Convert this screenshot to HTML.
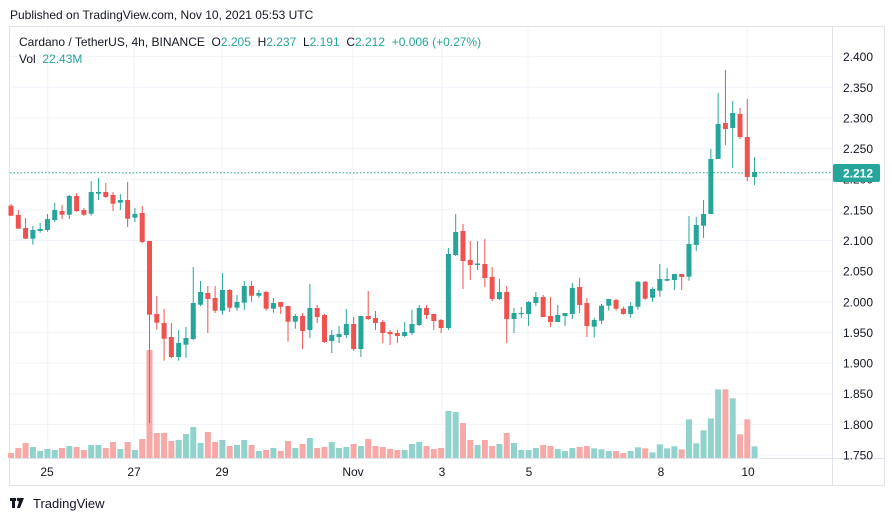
<!DOCTYPE html>
<html><head><meta charset="utf-8"><style>
body{margin:0;width:892px;height:521px;background:#fff;overflow:hidden;font-family:"Liberation Sans",sans-serif}
svg{position:absolute;left:0;top:0}
</style></head><body>
<svg id="s" width="892" height="521" xmlns="http://www.w3.org/2000/svg" font-family="Liberation Sans, sans-serif">
<text x="10" y="19" font-size="12" fill="#131722">Published on TradingView.com, Nov 10, 2021 05:53 UTC</text>
<rect x="9.5" y="26.5" width="875" height="459" fill="none" stroke="#e0e3eb"/>
<g id="grid" stroke="#f0f3fa" stroke-width="1"></g>
<g id="vol"></g>
<g id="cand"></g>
<line x1="10" y1="172.7" x2="832" y2="172.7" stroke="#26a69a" stroke-dasharray="1.5,2"/>
<line x1="832.5" y1="27" x2="832.5" y2="486" stroke="#e0e3eb"/>
<line x1="10" y1="458.5" x2="885" y2="458.5" stroke="#e0e3eb"/>
<g id="pl" font-size="12" fill="#131722"></g>
<rect x="833" y="164" width="47" height="18" rx="2" fill="#26a69a"/>
<text x="843" y="177.5" font-size="12" fill="#fff" font-weight="bold">2.212</text>
<g font-size="12" fill="#131722" text-anchor="middle">
<text x="47" y="476">25</text><text x="134" y="476">27</text><text x="222" y="476">29</text><text x="353" y="476">Nov</text><text x="442" y="476">3</text><text x="529" y="476">5</text><text x="661" y="476">8</text><text x="748" y="476">10</text></g>
<text x="19" y="46" font-size="12" fill="#131722">Cardano / TetherUS, 4h, BINANCE&#160;&#160;O<tspan fill="#26a69a">2.205</tspan>&#160;&#160;H<tspan fill="#26a69a">2.237</tspan>&#160;&#160;L<tspan fill="#26a69a">2.191</tspan>&#160;&#160;C<tspan fill="#26a69a">2.212&#160;&#160;+0.006 (+0.27%)</tspan></text>
<text x="19" y="63" font-size="12" fill="#131722">Vol&#160;&#160;<tspan fill="#26a69a">22.43M</tspan></text>
<g fill="#131722"><rect x="10" y="498" width="6" height="3"/><rect x="12" y="498" width="3" height="10"/><circle cx="18.5" cy="499.5" r="1.7"/><path d="M20 498h4l-4 10h-3z"/></g>
<text x="33" y="508" font-size="13" fill="#131722">TradingView</text>
</svg>
<script>
var ns="http://www.w3.org/2000/svg";
function el(p,t,a){var e=document.createElementNS(ns,t);for(var k in a)e.setAttribute(k,a[k]);document.getElementById(p).appendChild(e);return e;}
function y(p){return 87.3+(2.35-p)/0.05*30.64;}
for(var i=0;i<14;i++){var p=2.4-i*0.05,yy=y(p);el("grid","line",{x1:10,x2:832,y1:yy,y2:yy});var t=el("pl","text",{x:843,y:yy+4.5});t.textContent=p.toFixed(3);}
[47.7,134.3,222,353,441.7,528,660.7,747].forEach(function(x){el("grid","line",{x1:x,x2:x,y1:27,y2:458});});
var G="#26a69a",R="#ef5350";
var C=[
[205.7,215.7,204,216,R],[215,228.7,210,228.7,R],[228,238.7,218,238.7,R],[230,238.7,226,244.7,G],[229,231,223,232.7,G],[219,230,214,231.7,G],[210,220,202.7,222,G],[211,214.7,205,219,R],[196,214.7,195,219,G],[196,211,193,212,R],
[210,214.7,208,216,R],[192,213.7,181,215.7,G],[192,193.7,178,200,G],[192,197,183,198,R],[195,203.7,192,211,R],[200,202.7,194,210,G],[200,218.7,182,227,R],[214,217.7,208,222,G],[213,242,206,243,R],[241,314.7,241,423,R],
[314,322.7,296,329.7,R],[323,338.7,309,360.7,R],[337,357,323,358,R],[343,357,330,360.7,G],[338,344.7,327,358,G],[303,339,267,340,G],[292,304.7,281,306,G],[293,299,286,333,R],[298,310.7,286,313,R],[290,310.7,273,314.7,G],
[290,307.7,289,312,R],[302,307.7,295,310.7,G],[286,302.7,281,310,G],[286,295.7,281,301.7,R],[293,295.7,290,298,G],[292,308.7,291,310.7,R],[303,308.7,298,312.7,G],[302,306.7,302,314,R],[306,321.7,306,341.7,R],[316,321.7,314,328.7,G],
[316,331,313,349,R],[308,330,284,338,G],[308,317,305,323,R],[315,342,314,343,R],[335,341,330,353,G],[334,337,326,343,G],[324,335,309,338,G],[324,349,317,351,R],[316,349,316,357,G],[316,319,291,320,R],
[318,323,311,330,R],[322,333,320,343,R],[332,334,330,345,R],[333,336,330,343,R],[332,336,322,337,G],[324,333,310,335,G],[308,325,305,326,G],[308,315,305,319,R],[314,321,314,330,R],[320,328,319,333,R],
[254,328,248,330,G],[232,255,214,256,G],[231,261,224,289,R],[260,265,241,280,R],[263.5,265,241,270,G],[264,278,239,287,R],[277,299,267,301,R],[292,299,279,300,G],[292,319,286,343,R],[313,319,308,333,G],
[313,314.2,307,318,G],[302,314,301,326,G],[297,303,292,306,G],[297,317,295,317,R],[316,322,297,327,R],[315,322,305,322,G],[313,316,313,326,G],[288,314,283,319,G],[287,305,278,313,R],[303,326,298,337,R],
[320,326.7,317.7,337.7,G],[305.7,320.7,304,324,G],[299,305.7,299,310.7,G],[300,308.7,298.7,310.7,R],[308.7,314,306.7,314.7,R],[306,314,302,317.7,G],[281.7,306.7,281,309.7,G],[281.7,298.7,281,299.7,R],[289,297.7,287.3,301.7,G],[279,290.7,264,296.7,G],
[279,280.7,268,281.3,G],[274,280,274,290,G],[274,277,274,290,R],[244,276.7,216,280.7,G],[225,245,217,251,G],[214,225.7,200,238,G],[159,214,149,214,G],[124,159,93,159,G],[123,129,70,145,R],[113,128,101,168,G],
[114,137,108,139,R],[137,177,99,181,R],[172,177,157,185,G]];
var V1=[849,834,819,831,843,837,840,834,828,831,840,825,825,834,816,837,816,840,807,540,789,789,813,810,792,771,819,786,816,810,828,825,810,825,843,840,834,843,813,834].map(function(v){return v/3+170;});
var V2=[732,714,744,741,726,744,741,732,738,717,738,741,747,750,750,732,726,738,747,744,633,636,669,720,735,720,738,732,699,729,750,750,744,735,738,747,753,744,741,738].map(function(v){return v/3+200;});
var V3=[1165,1168,1173,1173,1179,1173,1162,1165,1177,1153,1165,1159,1168,1078,1150,1111,1075,988,988,1015,1123,1078,1159].map(function(v){return v/3+60;});
var V=V1.concat(V2,V3);
for(var i=0;i<C.length;i++){var c=C[i],x=11+i*7.29;
var vt=V[i]||450;el("vol","rect",{x:x-3,y:vt,width:6,height:458-vt,fill:c[4]==G?"#92d2cc":"#f7a9a7"});
el("cand","line",{x1:x,x2:x,y1:c[2],y2:c[3],stroke:c[4],"stroke-width":1});
el("cand","rect",{x:x-2.5,y:c[0],width:5,height:Math.max(1,c[1]-c[0]),fill:c[4]});}
</script>
</body></html>
